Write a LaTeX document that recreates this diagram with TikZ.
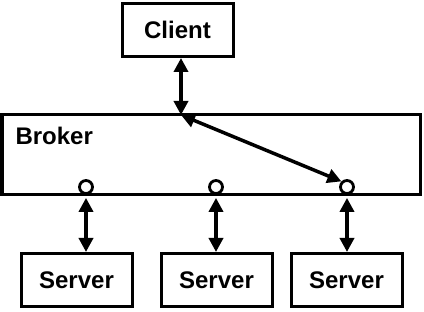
\documentclass[tikz,border=0pt]{standalone}
\usepackage{fontspec}
\setmainfont{Liberation Sans}
\usepackage{tikz}
\usetikzlibrary{arrows.meta,positioning,calc}
\tikzset{
  every node/.style={font=\fontsize{24}{27}\selectfont\bfseries},
  box/.style={draw,line width=3pt,inner sep=0pt,minimum width=111pt,minimum height=53pt},
  bus/.style={draw,line width=3pt,inner sep=0pt,minimum width=418pt,minimum height=80pt},
  port/.style={draw,circle,line width=2.8pt,fill=white,inner sep=0pt,minimum size=13pt},
  link/.style={{Triangle[length=14pt,width=14pt]}-{Triangle[length=14pt,width=14pt]},line width=3.5pt}
}
\begin{document}
\begin{tikzpicture}[x=1pt,y=-1pt]
  \useasboundingbox (0,0) rectangle (424,312);
  \node[box] (client) at (177.5,30) {Client};
  \node[bus] (broker) at (211,154.5) {};
  \node[anchor=west] (brokerLabel) at (12,136) {Broker};

  \node[port] (portA) at (86,187) {};
  \node[port] (portB) at (216,187) {};
  \node[port] (portC) at (347,187) {};

  \node[box] (serverA) at (76.5,280) {Server};
  \node[box] (serverB) at (216.5,280) {Server};
  \node[box] (serverC) at (346.5,280) {Server};

  \coordinate (hub) at (181,115);

  \draw[link] (client.south -| hub) -- (hub);
  \draw[link] (hub) -- (portC.north west);
  \draw[link] ([yshift=-3pt]portA.south) -- (portA.south |- serverA.north);
  \draw[link] ([yshift=-3pt]portB.south) -- (portB.south |- serverB.north);
  \draw[link] ([yshift=-3pt]portC.south) -- (portC.south |- serverC.north);
\end{tikzpicture}
\end{document}
